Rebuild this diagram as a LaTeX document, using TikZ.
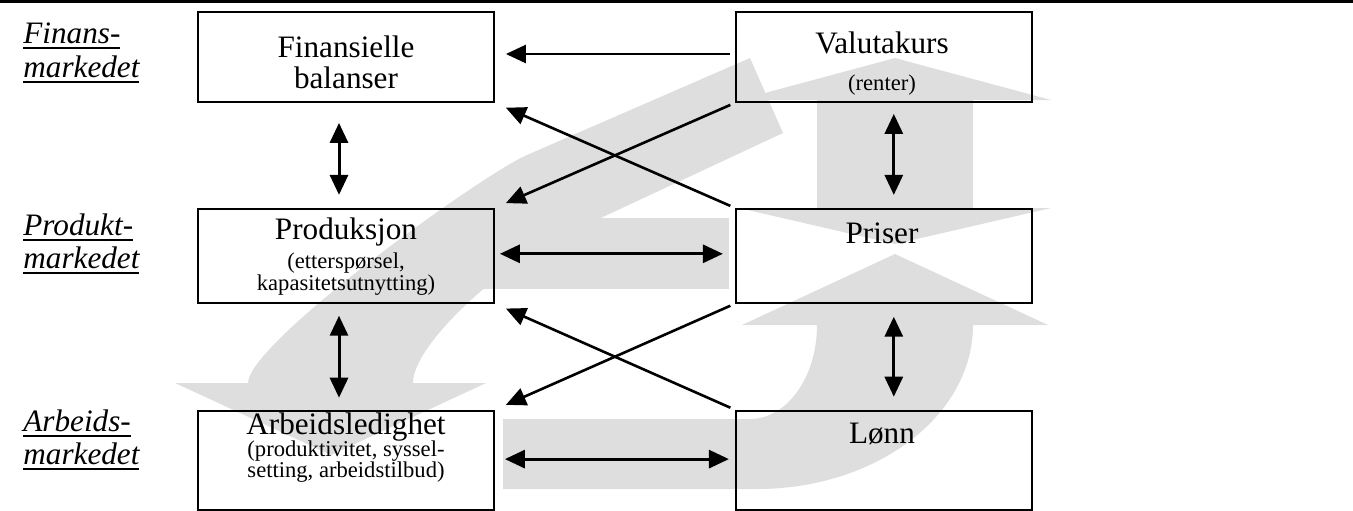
\documentclass[tikz,border=0pt]{standalone}
\usepackage{fontspec}
\setmainfont{Liberation Serif}
\usetikzlibrary{arrows.meta}
\usetikzlibrary{positioning}

\definecolor{bandgrey}{gray}{0.87}
\newcommand{\ulin}[1]{\setbox0\hbox{#1}\rlap{\rule[-3pt]{\wd0}{0.9pt}}\box0}

\begin{document}
\begin{tikzpicture}[x=0.5pt, y=-0.5pt, node distance=120pt,
    box/.style={draw, line width=0.9pt, minimum width=148pt, inner sep=0pt},
    maintxt/.style={anchor=base, font=\fontsize{15.6}{18}\selectfont},
    subtxt/.style={anchor=base, font=\fontsize{11.3}{13}\selectfont},
    lbl/.style={anchor=base west, inner sep=0pt, font=\fontsize{15.6}{18}\selectfont\itshape},
    conn/.style={line width=1.3pt, -{Triangle[length=10pt,width=9pt]}},
    twoway/.style={line width=1.5pt, {Triangle[length=10pt,width=9pt]}-{Triangle[length=10pt,width=9pt]}}]
  \useasboundingbox (0,0) rectangle (1353,510);

  % grey arrows in the background
  \fill[bandgrey] (750,58) -- (527,155) .. controls (481,175) and (248,343) .. (248,383)
    -- (175,383) -- (331,455) -- (486,383) -- (413,383)
    .. controls (413,343) and (506,262) .. (560,237) -- (783,133) -- cycle;
  \fill[bandgrey] (440,218) rectangle (729,289);
  \fill[bandgrey] (503,489) -- (757,489) .. controls (876,489) and (973,416) .. (973,325)
    -- (1048,325) -- (895,254) -- (742,325) -- (817,325)
    .. controls (817,377) and (787,419) .. (750,419) -- (503,419) -- cycle;
  \fill[bandgrey] (895,58) -- (1051,100) -- (973,100) -- (973,208) -- (1051,208)
    -- (895,244) -- (739,208) -- (817,208) -- (817,100) -- (739,100) -- cycle;

  % rule at the top
  \draw[line width=1.5pt] (0,1.5) -- (1353,1.5);

  % the three markets
  \node[lbl] (finl1) at (23,43) {\ulin{Finans-}};
  \node[lbl] (finl2) at (23,77) {\ulin{markedet}};
  \node[lbl] (prol1) at (23,235) {\ulin{Produkt-}};
  \node[lbl] (prol2) at (23,268) {\ulin{markedet}};
  \node[lbl] (arbl1) at (23,431) {\ulin{Arbeids-}};
  \node[lbl] (arbl2) at (23,464) {\ulin{markedet}};

  % boxes
  \node[box, minimum height=45pt] (fin) at (346,57) {};
  \node[box, minimum height=45pt, right=of fin] (val) {};
  \node[box, minimum height=47pt, below=52.5pt of fin] (pro) {};
  \node[box, minimum height=47pt, right=of pro] (pri) {};
  \node[box, minimum height=49.5pt, below=53pt of pro] (arb) {};
  \node[box, minimum height=49.5pt, right=of arb] (lon) {};

  \node[maintxt] (fint1) at (346,57) {Finansielle};
  \node[maintxt] (fint2) at (346,88) {balanser};
  \node[maintxt] (valt1) at (882,53) {Valutakurs};
  \node[subtxt] (valt2) at (882,90) {(renter)};
  \node[maintxt] (prot1) at (346,239) {Produksjon};
  \node[subtxt] (prot2) at (346,268) {(etterspørsel,};
  \node[subtxt] (prot3) at (346,290) {kapasitetsutnytting)};
  \node[maintxt] (prit1) at (882,243) {Priser};
  \node[maintxt] (arbt1) at (346,434) {Arbeidsledighet};
  \node[subtxt] (arbt2) at (346,456) {(produktivitet, syssel-};
  \node[subtxt] (arbt3) at (346,477) {setting, arbeidstilbud)};
  \node[maintxt] (lont1) at (882,443) {Lønn};

  % links between the markets
  \draw[conn, shorten <=2.5pt, shorten >=5.5pt] ([yshift=1.5pt]val.west) -- ([yshift=1.5pt]fin.east);
  \draw[conn, shorten <=2.5pt, shorten >=6pt] (pri.north west) -- (fin.south east);
  \draw[conn, shorten <=2.5pt, shorten >=6pt] (val.south west) -- (pro.north east);
  \draw[conn, shorten <=2.5pt, shorten >=6pt] (lon.north west) -- (pro.south east);
  \draw[conn, shorten <=2.5pt, shorten >=6pt] (pri.south west) -- (arb.north east);

  \draw[twoway, shorten <=10pt, shorten >=6.5pt] ([xshift=-3.5pt]fin.south) -- ([xshift=-3.5pt]pro.north);
  \draw[twoway, shorten <=6pt, shorten >=6pt] ([xshift=-3.5pt]pro.south) -- ([xshift=-3.5pt]arb.north);
  \draw[twoway, shorten <=5.5pt, shorten >=6.5pt] ([xshift=5pt]val.south) -- ([xshift=5pt]pri.north);
  \draw[twoway, shorten <=6.5pt, shorten >=6.5pt] ([xshift=5pt]pri.south) -- ([xshift=5pt]lon.north);
  \draw[twoway, shorten <=2.5pt, shorten >=6pt] ([yshift=1pt]pro.east) -- ([yshift=1pt]pri.west);
  \draw[twoway, shorten <=5pt, shorten >=3pt] ([yshift=0.5pt]arb.east) -- ([yshift=0.5pt]lon.west);
\end{tikzpicture}
\end{document}
